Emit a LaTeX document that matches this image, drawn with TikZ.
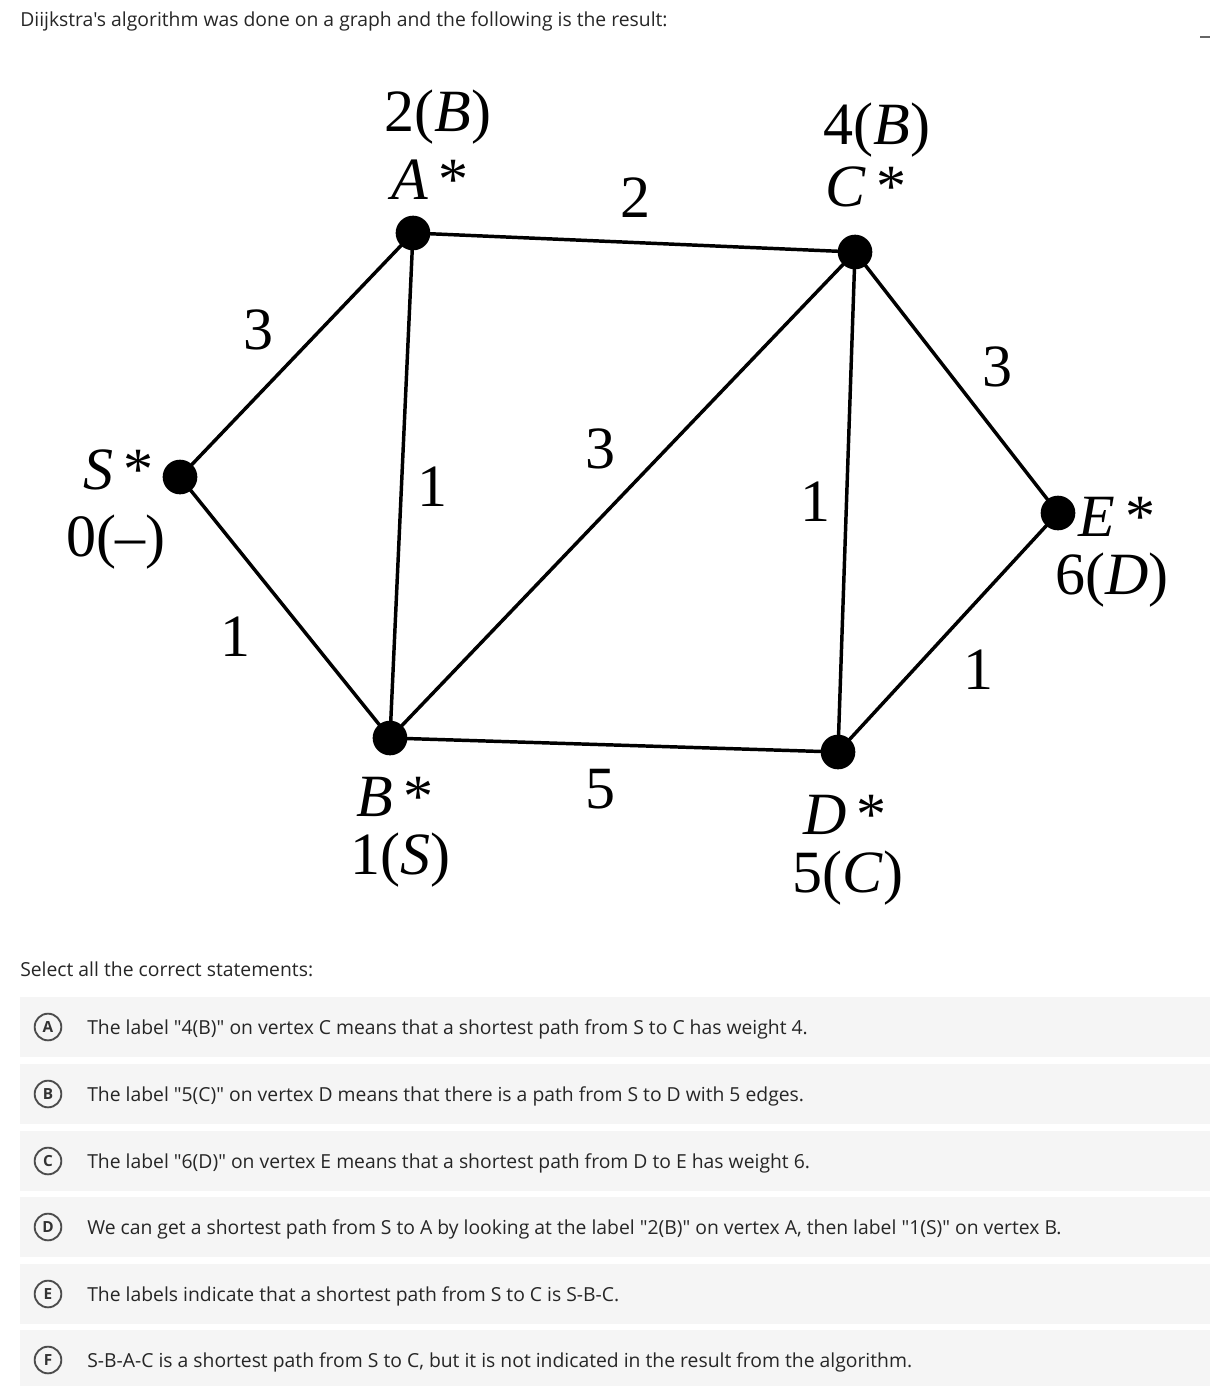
\documentclass[tikz,border=0pt]{standalone}
\usepackage{fontspec}
\setmainfont{Liberation Serif}
\newfontfamily\uifont{Open Sans}
\begin{document}
\begin{tikzpicture}[x=0.75pt,y=-0.75pt]
\useasboundingbox (0,0) rectangle (1232,1386);
\tikzset{
  vtx/.style={circle,fill=black,inner sep=0pt,minimum size=26pt},
  edge/.style={line width=2.6pt},
  big/.style={font=\fontsize{45}{48}\selectfont,inner sep=0pt},
  wt/.style={font=\fontsize{45}{48}\selectfont,inner sep=0pt},
  ui/.style={font=\uifont\fontsize{14.5}{17}\selectfont,text=black!85,inner sep=0pt,anchor=west},
  optletter/.style={circle,draw=black!70,line width=1.4pt,minimum size=20pt,inner sep=0pt,font=\uifont\bfseries\fontsize{11.5}{13}\selectfont,text=black!80}
}
\node[ui] (title) at (20,21) {Diijkstra's algorithm was done on a graph and the following is the result:};
\draw[black!60,line width=0.8pt] (1200,37) -- (1210,37);
% vertices
\node[vtx] (S) at (180,477) {};
\node[vtx] (A) at (413,233) {};
\node[vtx] (C) at (855,252) {};
\node[vtx] (B) at (390,738) {};
\node[vtx] (D) at (838,752) {};
\node[vtx] (E) at (1058,513) {};
\draw[edge] (S.center) -- (A.center);
\draw[edge] (S.center) -- (B.center);
\draw[edge] (A.center) -- (C.center);
\draw[edge] (A.center) -- (B.center);
\draw[edge] (B.center) -- (C.center);
\draw[edge] (B.center) -- (D.center);
\draw[edge] (C.center) -- (D.center);
\draw[edge] (C.center) -- (E.center);
\draw[edge] (D.center) -- (E.center);
% vertex labels
\node[big] (lA1) at (438,117) {2(\textit{B})};
\node[big] (lA2) at (430,180) {\textit{A}\,*};
\node[big] (lC1) at (877,130) {4(\textit{B})};
\node[big] (lC2) at (866,187) {\textit{C}\,*};
\node[big] (lS1) at (118,470) {\textit{S}\,*};
\node[big] (lS2) at (116,542) {0(--)};
\node[big] (lB1) at (395,797) {\textit{B}\,*};
\node[big] (lB2) at (400,860) {1(\textit{S})};
\node[big] (lD1) at (845,815) {\textit{D}\,*};
\node[big] (lD2) at (848,878) {5(\textit{C})};
\node[big] (lE1) at (1117,517) {\textit{E}\,*};
\node[big] (lE2) at (1112,580) {6(\textit{D})};
% weights
\node[wt] (w1) at (258,330) {3};
\node[wt] (w2) at (432,487) {1};
\node[wt] (w3) at (635,198) {2};
\node[wt] (w4) at (600,449) {3};
\node[wt] (w5) at (815,502) {1};
\node[wt] (w6) at (997,367) {3};
\node[wt] (w7) at (235,637) {1};
\node[wt] (w8) at (600,789) {5};
\node[wt] (w9) at (978,670) {1};
% question
\node[ui] (sel) at (20,969) {Select all the correct statements:};
\foreach \y/\L/\T [count=\i] in {
 1027/A/{The label "4(B)" on vertex C means that a shortest path from S to C has weight 4.},
 1094/B/{The label "5(C)" on vertex D means that there is a path from S to D with 5 edges.},
 1161/C/{The label "6(D)" on vertex E means that a shortest path from D to E has weight 6.},
 1227/D/{We can get a shortest path from S to A by looking at the label "2(B)" on vertex A, then label "1(S)" on vertex B.},
 1294/E/{The labels indicate that a shortest path from S to C is S-B-C.},
 1360/F/{S-B-A-C is a shortest path from S to C, but it is not indicated in the result from the algorithm.}}{
  \fill[black!4] (20,\y-30) rectangle (1210,\y+30);
  \node[optletter] (o\i) at (48,\y) {\L};
  \node[ui] (t\i) at (87,\y+2) {\T};
}
\end{tikzpicture}
\end{document}
